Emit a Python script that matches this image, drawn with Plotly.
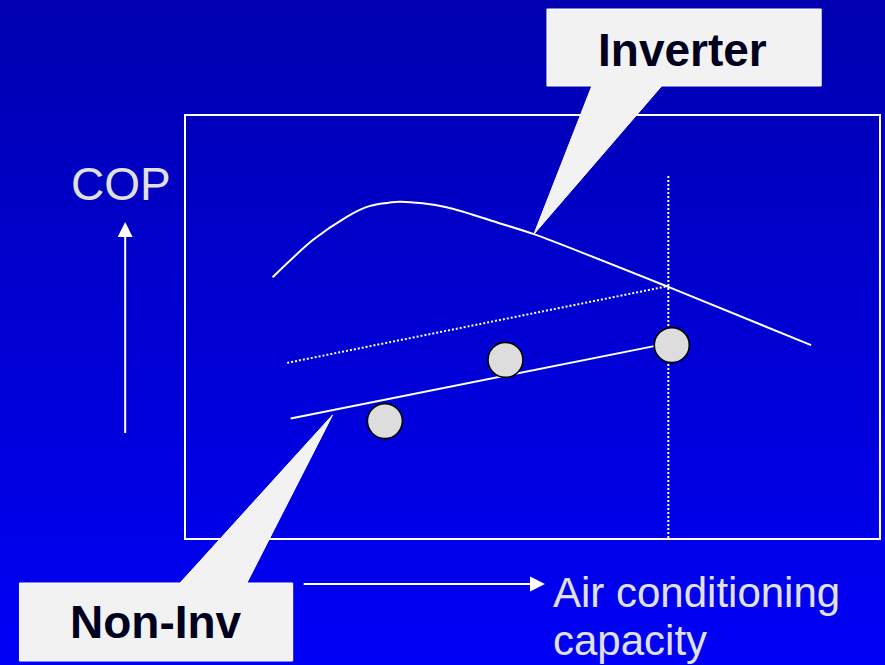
import plotly.graph_objects as go

# ---- data (capacity units 0-100 across the box, COP units 0-100 up the box) ----
inverter_x = [12.5, 18.3, 23.2, 26.0, 30.8, 37.6, 45.2, 50.2, 69.6, 90.2]
inverter_cop = [61.8, 70.6, 76.1, 78.4, 79.7, 78.4, 74.6, 72.0, 59.5, 45.7]

noninv_x = [15.1, 70.1]
noninv_cop = [28.3, 46.3]

points_x = [28.7, 46.1, 70.1]
points_cop = [27.7, 42.2, 45.7]

guide_x = [14.6, 69.6]
guide_cop = [41.5, 59.7]

rated_x = [69.6, 69.6]
rated_cop = [0, 86.0]

label_inverter = "Inverter"
label_noninv = "Non-Inv"
label_y = "COP"
label_x_lines = ["Air conditioning", "capacity"]

# ---- layout helpers (page pixel -> paper fraction) ----
W, H = 885, 665
L, R, T, B = 186, 881, 116, 538


def px(x):
    return (x - L) / (R - L)


def py(y):
    return (B - y) / (B - T)


def path(pts):
    return "M " + " L ".join(f"{px(a):.5f},{py(b):.5f}" for a, b in pts) + " Z"


fig = go.Figure()

fig.add_trace(go.Scatter(x=guide_x, y=guide_cop, mode="lines",
                         line=dict(color="white", width=2, dash="2px,2px"),
                         hoverinfo="skip"))
fig.add_trace(go.Scatter(x=rated_x, y=rated_cop, mode="lines",
                         line=dict(color="white", width=2, dash="2px,2px"),
                         hoverinfo="skip"))
fig.add_trace(go.Scatter(x=inverter_x, y=inverter_cop, mode="lines",
                         line=dict(color="white", width=2, shape="spline", smoothing=0.8),
                         hoverinfo="skip"))
fig.add_trace(go.Scatter(x=noninv_x, y=noninv_cop, mode="lines",
                         line=dict(color="white", width=2),
                         hoverinfo="skip"))
fig.add_trace(go.Scatter(x=points_x, y=points_cop, mode="markers",
                         marker=dict(size=35, color="#DDDDDD",
                                     line=dict(color="black", width=1.6)),
                         hoverinfo="skip"))

shapes = []
# gradient background
n = 80
top_c = (0, 0, 176)
bot_c = (0, 0, 246)
for i in range(n):
    y0 = H * i / n
    y1 = H * (i + 1) / n + 1
    t = i / (n - 1)
    c = tuple(round(top_c[k] + (bot_c[k] - top_c[k]) * t) for k in range(3))
    shapes.append(dict(type="rect", xref="paper", yref="paper",
                       x0=px(-5), x1=px(W + 5), y0=py(y0), y1=py(y1),
                       fillcolor=f"rgb{c}", line=dict(width=0), layer="below"))

# callouts
callout_style = dict(type="path", xref="paper", yref="paper",
                     fillcolor="#F2F2F2", line=dict(color="white", width=1), layer="above")
shapes.append(dict(callout_style, path=path([(548, 9), (823, 9), (823, 86), (663, 86),
                                             (535, 234), (593, 86), (548, 86)])))
shapes.append(dict(callout_style, path=path([(19, 583), (180, 583), (333, 415), (247, 583),
                                             (293, 583), (293, 661), (19, 661)])))

# COP arrow (up)
shapes.append(dict(type="line", xref="paper", yref="paper",
                   x0=px(125), x1=px(125), y0=py(433), y1=py(236),
                   line=dict(color="white", width=2)))
shapes.append(dict(type="path", xref="paper", yref="paper",
                   path=path([(117.5, 237), (132.5, 237), (125, 222)]),
                   fillcolor="white", line=dict(width=0)))
# capacity arrow (right)
shapes.append(dict(type="line", xref="paper", yref="paper",
                   x0=px(304), x1=px(532), y0=py(584), y1=py(584),
                   line=dict(color="white", width=2)))
shapes.append(dict(type="path", xref="paper", yref="paper",
                   path=path([(531, 576.5), (531, 591.5), (546, 584)]),
                   fillcolor="white", line=dict(width=0)))

annotations = [
    dict(text=f"<b>{label_inverter}</b>", x=px(684), y=py(49.5), xanchor="center", yanchor="middle",
         font=dict(family="Liberation Sans, Arial, sans-serif", size=46, color="#00001E")),
    dict(text=f"<b>{label_noninv}</b>", x=px(156), y=py(622), xanchor="center", yanchor="middle",
         font=dict(family="Liberation Sans, Arial, sans-serif", size=46, color="#00001E")),
    dict(text=label_y, x=px(120.5), y=py(183.5), xanchor="center", yanchor="middle",
         font=dict(family="Liberation Sans, Arial, sans-serif", size=46, color="#E0E0E0")),
    dict(text=label_x_lines[0], x=px(552), y=py(592), xanchor="left", yanchor="middle",
         font=dict(family="Liberation Sans, Arial, sans-serif", size=42, color="#E0E0E0")),
    dict(text=label_x_lines[1], x=px(552), y=py(640), xanchor="left", yanchor="middle",
         font=dict(family="Liberation Sans, Arial, sans-serif", size=42, color="#E0E0E0")),
]
for a in annotations:
    a.update(xref="paper", yref="paper", showarrow=False)

axis_common = dict(range=[0, 100], showgrid=False, zeroline=False, showticklabels=False,
                   ticks="", showline=True, mirror=True, linecolor="white", linewidth=2,
                   fixedrange=True)

fig.update_layout(
    width=W, height=H,
    margin=dict(l=L, r=W - R, t=T, b=H - B, pad=0),
    paper_bgcolor="#0000D8",
    plot_bgcolor="rgba(0,0,0,0)",
    showlegend=False,
    xaxis=axis_common,
    yaxis=axis_common,
    shapes=shapes,
    annotations=annotations,
)

fig.write_html(
    "out.html",
    config={"displayModeBar": False},
    post_script="document.body.style.margin='0';document.body.style.overflow='hidden';",
)
